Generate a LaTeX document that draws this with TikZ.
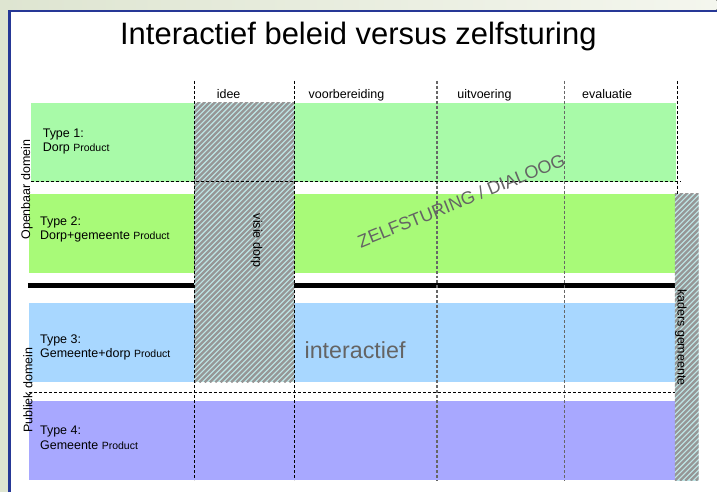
\documentclass[tikz,border=0pt]{standalone}
\usepackage{fontspec}
\setmainfont{Liberation Sans}

\definecolor{framebl}{RGB}{38,56,150}
\definecolor{slidebg}{RGB}{222,229,209}
\definecolor{slidetop}{RGB}{244,246,238}
\definecolor{typeone}{RGB}{168,250,168}
\definecolor{typetwo}{RGB}{168,250,120}
\definecolor{typethree}{RGB}{168,215,255}
\definecolor{typefour}{RGB}{168,168,255}
\definecolor{hatchbg}{RGB}{190,230,230}
\definecolor{hatchgray}{RGB}{150,150,150}
\definecolor{watermark}{RGB}{100,100,100}

\newcommand{\lblfont}{\fontsize{12.5}{14.3}\selectfont}
\newcommand{\prodfont}{\fontsize{10.5}{12}\selectfont}

\tikzset{
  stripe/.style={hatchgray, line width=2.3pt},
  phase/.style={dash pattern=on 3pt off 2pt, line width=0.7pt},
  phasegray/.style={phase, draw=black!60, line width=1.3pt},
  typelbl/.style={anchor=base west, inner sep=0pt, align=left, font=\lblfont},
  hdr/.style={anchor=base west, inner sep=0pt, font=\lblfont},
  side/.style={inner sep=0pt, font=\lblfont},
}

\begin{document}
\begin{tikzpicture}[x=1pt,y=-1pt]
  % slide background and frame
  \fill[slidebg] (0,0) rectangle (718,493);
  \fill[left color=slidebg, right color=slidetop] (0,0) rectangle (718,10);
  \fill[white] (9.5,11.2) rectangle (718,493);
  \draw[framebl, line width=2.6pt] (9.5,493) -- (9.5,11.2) -- (718,11.2);
  \useasboundingbox (0,0) rectangle (718,493);

  \node (title) [font=\fontsize{31}{36}\selectfont, anchor=base] at (359,45)
    {Interactief beleid versus zelfsturing};

  % the four types
  \fill[typeone]   (31,103) rectangle (677,182);
  \fill[typetwo]   (29,194) rectangle (676,273);
  \fill[typethree] (29,304) rectangle (676,383);
  \fill[typefour]  (29,402) rectangle (676,481);
  \draw[line width=5pt] (28,286.5) -- (676,286.5);

  % visie dorp band
  \begin{scope}
    \clip (194.5,103) rectangle (295,383);
    \fill[hatchbg] (194.5,103) rectangle (295,383);
    \foreach \k in {-54,...,19}
      \draw[stripe] (194.5+\k*5.3,383) -- ++(290,-290);
  \end{scope}
  % kaders gemeente band
  \begin{scope}
    \clip (676,194) rectangle (700,481.5);
    \fill[hatchbg] (676,194) rectangle (700,481.5);
    \foreach \k in {-56,...,5}
      \draw[stripe] (676+\k*5.3,481.5) -- ++(300,-300);
  \end{scope}

  % phases
  \foreach \x in {194.5,294.7}
    \draw[phase] (\x,81) -- (\x,481);
  \foreach \x in {437.7,565.7}
    \draw[phasegray] (\x,81) -- (\x,482);
  \draw[phase] (678.3,81) -- (678.3,194);
  \draw[phase] (31,181.7) -- (682,181.7);
  \draw[phase] (29,393.3) -- (676,393.3);
  \foreach \x/\name in {217/idee,309/voorbereiding,458/uitvoering,583/evaluatie}
    \node (\name) [hdr] at (\x,98.3) {\name};

  \node (type1) [typelbl] at (42.7,151.6) {Type 1:\\Dorp {\prodfont Product}};
  \node (type2) [typelbl] at (40,240) {Type 2:\\Dorp+gemeente {\prodfont Product}};
  \node (type3) [typelbl] at (40,358.3) {Type 3:\\Gemeente+dorp {\prodfont Product}};
  \node (type4) [typelbl] at (40,450) {Type 4:\\Gemeente {\prodfont Product}};

  \node (openbaar) [side, rotate=90] at (27,190) {Openbaar domein};
  \node (publiek) [side, rotate=90] at (28,391) {Publiek domein};
  \node (visie) [side, rotate=-90] at (257,241) {visie dorp};
  \node (kaders) [side, rotate=-90] at (682,338) {kaders gemeente};

  \node (zelf) [font=\fontsize{18}{20}\selectfont, text=watermark, rotate=22,
    inner sep=0pt] at (462,201) {ZELFSTURING / DIALOOG};
  \node (inter) [anchor=base west, inner sep=0pt, text=watermark,
    font=\fontsize{23.3}{26}\selectfont] at (305,359.3) {interactief};
\end{tikzpicture}
\end{document}
